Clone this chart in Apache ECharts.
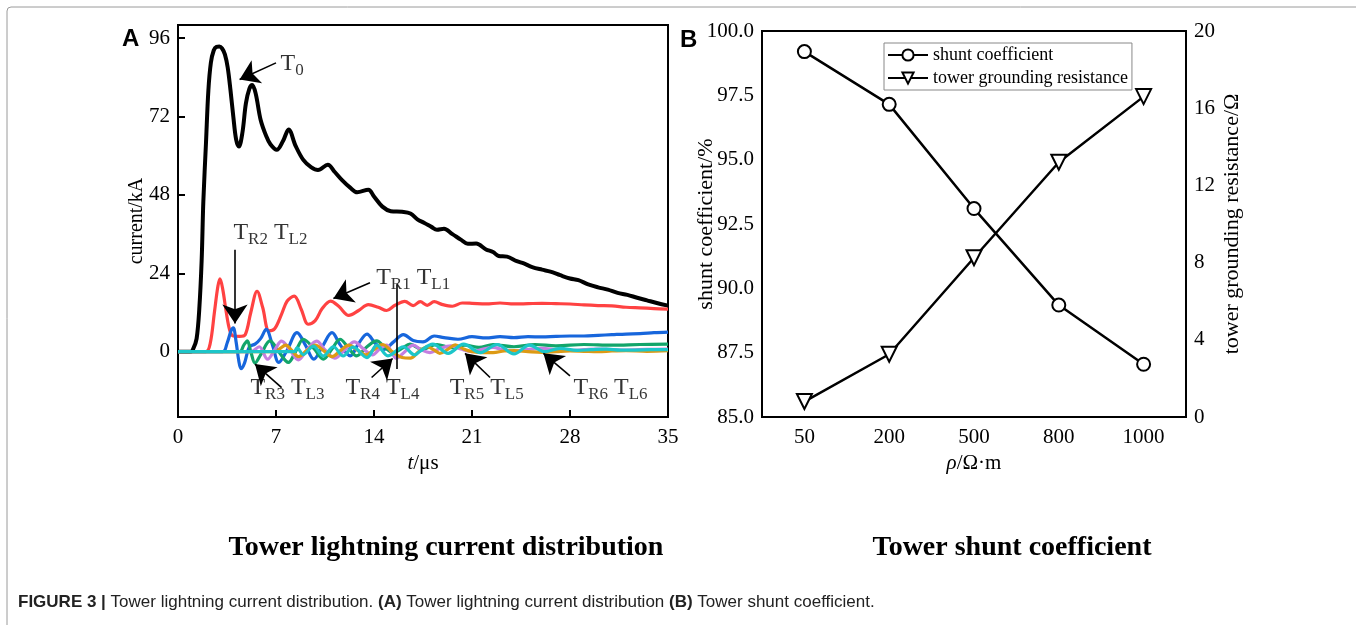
<!DOCTYPE html>
<html>
<head>
<meta charset="utf-8">
<style>
html, body { margin: 0; padding: 0; background: #fff; }
#myChart { width: 1356px; height: 625px; }
</style>
</head>
<body>
<div id="myChart"></div>
<script src="https://cdn.jsdelivr.net/npm/echarts@6/dist/echarts.min.js"></script>
<script>
// panel A: tower currents, points are [t in µs, current in kA]
const t0Current = [[0,0],[0.9,0],[1.1,1],[1.33,4],[1.52,13],[1.69,28],[1.81,46],[2.0,64],[2.17,80],[2.35,88.5],[2.55,92.2],[2.75,93.3],[2.95,93.4],[3.15,92.8],[3.35,91],[3.55,87],[3.75,80],[3.95,72],[4.15,65],[4.35,62.8],[4.6,67],[4.85,76],[5.1,80.5],[5.3,81.6],[5.55,79],[5.9,71],[6.3,66],[6.6,63.5],[7.05,61.8],[7.5,64.5],[7.9,68],[8.4,63],[8.95,58.7],[9.5,56.5],[10.0,55.6],[10.7,57.2],[11.2,55],[11.7,52.6],[12.3,50.2],[12.8,48.8],[13.6,49.6],[14.0,47.5],[14.6,44.4],[15.2,43],[16.0,42.8],[16.6,42.3],[17.1,40.5],[17.6,39.4],[18.1,38.2],[18.5,37.3],[19.0,37.6],[19.6,36],[20.2,34.3],[20.7,33],[21.3,33.1],[22.0,31.3],[22.5,30.5],[22.9,29.3],[23.5,29.1],[24.2,27.7],[24.7,27.0],[25.3,25.9],[26.0,25.1],[26.6,24.5],[27.3,23.4],[28.0,22.4],[28.6,21.9],[29.3,20.6],[30.0,19.7],[30.7,19.0],[31.4,18.0],[32.1,17.4],[32.8,16.5],[33.5,15.7],[34.2,14.9],[35,14.1]]
const r1Current = [[0,0],[2.0,0],[2.3,2.5],[2.6,12],[2.85,20],[3.0,22.3],[3.2,19],[3.45,12],[3.7,6.5],[3.95,4.8],[4.4,4.7],[4.8,5.2],[5.2,12],[5.65,18.5],[6.05,13.5],[6.5,6.4],[6.9,7],[7.4,11.5],[7.8,15.5],[8.3,17],[8.8,13],[9.3,8.4],[9.8,9.5],[10.3,13.2],[10.9,15.5],[11.5,13.8],[12.2,11.1],[12.9,12.6],[13.6,14.4],[14.3,13.6],[14.9,12.6],[15.5,14.2],[16.2,15.4],[16.8,14.1],[17.3,15.3],[17.8,14.2],[18.3,15.3],[18.9,14.4],[19.6,13.9],[20.3,14.9],[21,14.8],[22,14.6],[23,14.9],[24,14.6],[25,14.7],[26,14.8],[27,14.7],[28,14.6],[29,14.3],[30,14.1],[31,14.0],[32,13.6],[33,13.4],[34,13.2],[35,13.0]]
const r2Current = [[0,0],[3.2,0],[3.5,2.5],[3.8,6.5],[3.95,7.3],[4.15,3],[4.35,-3],[4.5,-5.2],[4.75,-3.5],[5.1,1.5],[5.5,2.3],[5.9,4],[6.3,6.8],[6.75,2],[7.2,-3.3],[7.8,0.5],[8.5,5.8],[9.1,2],[9.7,-2.3],[10.3,1.5],[11.0,5.8],[11.6,2],[12.3,-1.3],[12.9,2.5],[13.5,5.4],[14.1,2.5],[14.7,0.7],[15.4,3],[16.1,5.2],[16.8,3.4],[17.5,3.0],[18.3,4.8],[19.0,4.3],[20,3.8],[21,4.6],[22,4.2],[23,4.6],[24,4.3],[25,4.6],[26,4.5],[27,4.7],[28,4.8],[29,4.8],[30,5.0],[31,5.2],[32,5.4],[33,5.5],[34,5.8],[35,6.0]]
const r3Current = [[0,0],[4.4,0],[4.7,2],[4.95,3.3],[5.2,0],[5.5,-3.5],[5.9,-1],[6.57,3.3],[7.2,0],[7.88,-3.3],[8.4,0],[8.95,3.8],[9.7,1],[10.38,-2.3],[11.0,0.8],[11.57,3.8],[12.2,1],[12.76,-1.3],[13.5,1.5],[14.19,3.3],[14.8,1.2],[15.38,-0.3],[16.0,1],[16.57,2.3],[17.4,0.7],[18.5,2.2],[19.5,1.2],[20.5,2.0],[21.5,1.3],[22.5,2.2],[24,1.5],[25.5,2.2],[27,1.8],[29,2.2],[31,2.0],[33,2.2],[35,2.3]]
const r4Current = [[0,0],[5.2,0],[5.8,1.5],[6.4,-2.3],[6.9,0.5],[7.4,3.2],[8.0,0.5],[8.6,-2.5],[9.2,0.5],[9.9,3.2],[10.5,0.5],[11.2,-2.0],[11.9,0.5],[12.6,3.0],[13.2,1],[13.9,-1.0],[14.4,0.8],[14.9,2.0],[15.3,-0.5],[15.6,-2.0],[16.2,0],[16.8,2.0],[17.4,0.5],[18.0,-0.3],[18.7,1],[19.5,1.8],[20.2,0.8],[21,0],[21.8,0.8],[22.5,1.3],[23.2,0.6],[24,0.2],[25,0.7],[26,1.0],[27,0.6],[28,0.4],[29,0.6],[30,0.8],[32,0.5],[33.5,0.7],[35,0.8]]
const r5Current = [[0,0],[7.0,0],[7.3,1],[7.7,2.0],[8.15,0.3],[8.6,-1.5],[9.2,0.3],[9.8,2.0],[10.4,0.3],[11.0,-1.5],[11.6,0.3],[12.2,2.0],[12.8,0.5],[13.4,-1.0],[14.0,0.6],[14.6,2.2],[15.3,0],[16.0,-1.8],[16.6,-2.0],[17.2,0],[17.8,1.5],[18.3,0.5],[18.7,-0.5],[19.3,0.8],[19.8,2.1],[20.4,0.8],[21,0.0],[21.8,-0.3],[22.5,-0.3],[23.3,0.2],[24,0.3],[25,0],[26,-0.2],[27,0],[28,0.2],[29,0.1],[30,0.0],[31,0.2],[32,0.3],[33.5,0.1],[35,0.3]]
const r6Current = [[0,0],[8.3,0],[8.5,1.2],[8.95,-0.9],[9.67,1.7],[10.38,-1.3],[11.1,1.5],[11.8,-1.3],[12.5,1.4],[13.5,-1.8],[14.2,2.0],[15.0,-1.3],[16.1,1.5],[16.9,-1.0],[17.3,0.2],[18.2,2.3],[19.3,-0.5],[20.4,2.3],[21.6,-0.3],[22.8,2.2],[24.0,-0.7],[25.1,2.0],[26.2,0.0],[27.3,1.0],[28.5,0.4],[29.5,0.6],[30.6,0.8],[31.6,0.5],[32.7,0.5],[33.8,0.6],[35,0.6]]
const timeTicks = [0, 7, 14, 21, 28, 35]
const currentTicks = [0, 24, 48, 72, 96]

// panel B: shunt coefficient and grounding resistance vs soil resistivity
const rhoLabels = ['50', '200', '500', '800', '1000']
const shuntCoeff = [99.2, 97.15, 93.1, 89.35, 87.05]
const groundRes = [0.8, 3.25, 8.25, 13.2, 16.6]

// annotations of panel A, in data units
const arrowLines = [
  [[7.0, 88.4], [4.4, 83.3]],
  [[4.07, 31.2], [4.07, 8.6]],
  [[13.71, 21.1], [11.1, 16.3]],
  [[7.4, -11.0], [5.5, -3.8]],
  [[13.83, -7.9], [15.33, -2.1]],
  [[22.29, -7.9], [20.5, -0.5]],
  [[28.0, -7.4], [26.1, -0.5]]
]
const plainLines = [[[15.62, 20.6], [15.62, -5.3]]]
const curveLabels = [
  [8.15, 88.1, 'T{s|0}'],
  [6.6, 36.4, 'T{s|R2} T{s|L2}'],
  [16.8, 22.7, 'T{s|R1} T{s|L1}'],
  [7.82, -10.95, 'T{s|R3} T{s|L3}'],
  [14.6, -10.9, 'T{s|R4} T{s|L4}'],
  [22.05, -10.9, 'T{s|R5} T{s|L5}'],
  [30.9, -10.9, 'T{s|R6} T{s|L6}']
]

const SERIF = 'Liberation Serif'
const SANS = 'Liberation Sans'

let myChart = echarts.init(document.getElementById('myChart'))

function currentLine (name, data, color, width) {
  return {
    name: name,
    type: 'line',
    xAxisIndex: 0,
    yAxisIndex: 0,
    data: data,
    smooth: 0.35,
    showSymbol: false,
    lineStyle: { color: color, width: width },
    itemStyle: { color: color },
    z: 3
  }
}

myChart.setOption({
  animation: false,
  textStyle: { fontFamily: SERIF, color: '#000' },
  graphic: [
    {
      type: 'rect',
      shape: { x: 7, y: 7, width: 1420, height: 700, r: 4 },
      style: { fill: 'none', stroke: '#9a9a9a', lineWidth: 1 }
    },
    {
      type: 'text', x: 122, y: 27,
      style: { text: 'A', fontSize: 24, fontWeight: 'bold', fontFamily: SANS, fill: '#000' }
    },
    {
      type: 'text', x: 680, y: 28,
      style: { text: 'B', fontSize: 24, fontWeight: 'bold', fontFamily: SANS, fill: '#000' }
    },
    {
      type: 'text', x: 446, y: 548,
      style: {
        text: 'Tower lightning current distribution', fontSize: 28, fontWeight: 'bold',
        fontFamily: SERIF, fill: '#000', align: 'center', verticalAlign: 'middle'
      }
    },
    {
      type: 'text', x: 1012, y: 548,
      style: {
        text: 'Tower shunt coefficient', fontSize: 28, fontWeight: 'bold',
        fontFamily: SERIF, fill: '#000', align: 'center', verticalAlign: 'middle'
      }
    },
    {
      type: 'text', x: 18, y: 602,
      style: {
        text: '{b|FIGURE 3 |} Tower lightning current distribution. {b|(A)} Tower lightning current distribution {b|(B)} Tower shunt coefficient.',
        fontSize: 17, fontFamily: SANS, fill: '#222', verticalAlign: 'middle',
        rich: { b: { fontSize: 17, fontFamily: SANS, fontWeight: 'bold', fill: '#222' } }
      }
    }
  ],
  legend: {
    show: true,
    orient: 'vertical',
    left: 884,
    top: 43,
    data: ['shunt coefficient', 'tower grounding resistance'],
    itemWidth: 40,
    itemHeight: 14,
    itemGap: 5,
    padding: [3, 4, 3, 3],
    borderColor: '#888',
    borderWidth: 1,
    textStyle: { fontSize: 18, fontFamily: SERIF, color: '#000' }
  },
  grid: [
    { left: 178, top: 25, width: 490, height: 392, show: true, borderColor: '#000', borderWidth: 2, outerBoundsMode: 'none' },
    { left: 762, top: 31, width: 424, height: 386, show: true, borderColor: '#000', borderWidth: 2, outerBoundsMode: 'none' }
  ],
  xAxis: [
    {
      gridIndex: 0,
      type: 'value',
      min: 0,
      max: 35,
      interval: 7,
      name: '{i|t}/μs',
      nameLocation: 'middle',
      nameGap: 36,
      nameTextStyle: {
        fontSize: 21, fontFamily: SERIF, color: '#000',
        rich: { i: { fontSize: 21, fontFamily: SERIF, fontStyle: 'italic', color: '#000' } }
      },
      axisLine: { onZero: false, lineStyle: { color: '#000', width: 2 } },
      axisTick: { inside: true, length: 7, lineStyle: { color: '#000', width: 2 } },
      axisLabel: { fontSize: 21, fontFamily: SERIF, color: '#000', margin: 10, customValues: timeTicks },
      splitLine: { show: false }
    },
    {
      gridIndex: 1,
      type: 'category',
      data: rhoLabels,
      boundaryGap: true,
      name: '{i|ρ}/Ω·m',
      nameLocation: 'middle',
      nameGap: 36,
      nameTextStyle: {
        fontSize: 21, fontFamily: SERIF, color: '#000',
        rich: { i: { fontSize: 21, fontFamily: SERIF, fontStyle: 'italic', color: '#000' } }
      },
      axisLine: { lineStyle: { color: '#000', width: 2 } },
      axisTick: { inside: true, length: 7, alignWithLabel: true, lineStyle: { color: '#000', width: 2 } },
      axisLabel: { fontSize: 21, fontFamily: SERIF, color: '#000', margin: 10 },
      splitLine: { show: false }
    }
  ],
  yAxis: [
    {
      gridIndex: 0,
      type: 'value',
      min: -20,
      max: 100,
      name: 'current/kA',
      nameLocation: 'middle',
      nameRotate: 90,
      nameGap: 31,
      nameMoveOverlap: false,
      nameTextStyle: { fontSize: 20, fontFamily: SERIF, color: '#000' },
      axisLine: { lineStyle: { color: '#000', width: 2 } },
      axisTick: { inside: true, length: 7, customValues: currentTicks, lineStyle: { color: '#000', width: 2 } },
      axisLabel: { fontSize: 21, fontFamily: SERIF, color: '#000', margin: 8, customValues: currentTicks },
      splitLine: { show: false }
    },
    {
      gridIndex: 1,
      type: 'value',
      min: 85,
      max: 100,
      interval: 2.5,
      name: 'shunt coefficient/%',
      nameLocation: 'middle',
      nameRotate: 90,
      nameGap: 45,
      nameMoveOverlap: false,
      nameTextStyle: { fontSize: 22, fontFamily: SERIF, color: '#000' },
      axisLine: { lineStyle: { color: '#000', width: 2 } },
      axisTick: { inside: true, length: 7, lineStyle: { color: '#000', width: 2 } },
      axisLabel: { fontSize: 21, fontFamily: SERIF, color: '#000', margin: 8, formatter: v => v.toFixed(1) },
      splitLine: { show: false }
    },
    {
      gridIndex: 1,
      type: 'value',
      position: 'right',
      min: 0,
      max: 20,
      interval: 4,
      name: 'tower grounding resistance/Ω',
      nameLocation: 'middle',
      nameRotate: 90,
      nameGap: 35,
      nameMoveOverlap: false,
      nameTextStyle: { fontSize: 22, fontFamily: SERIF, color: '#000' },
      axisLine: { lineStyle: { color: '#000', width: 2 } },
      axisTick: { inside: true, length: 7, lineStyle: { color: '#000', width: 2 } },
      axisLabel: { fontSize: 21, fontFamily: SERIF, color: '#000', margin: 8 },
      splitLine: { show: false }
    }
  ],
  series: [
    currentLine('T0', t0Current, '#000000', 4),
    currentLine('TR1 TL1', r1Current, '#ff4242', 3.2),
    currentLine('TR2 TL2', r2Current, '#1766dc', 3.2),
    currentLine('TR3 TL3', r3Current, '#12a56a', 3.2),
    currentLine('TR4 TL4', r4Current, '#c47fe0', 3.2),
    currentLine('TR5 TL5', r5Current, '#dd9a14', 3.2),
    currentLine('TR6 TL6', r6Current, '#1cc6c9', 3.2),
    {
      // arrows and pointer lines
      type: 'line',
      xAxisIndex: 0,
      yAxisIndex: 0,
      data: [],
      z: 5,
      markLine: {
        silent: true,
        animation: false,
        symbol: ['none', 'arrow'],
        symbolSize: 19,
        label: { show: false },
        lineStyle: { color: '#000', width: 1.6, type: 'solid' },
        emphasis: { disabled: true },
        data: arrowLines.map(a => [{ coord: a[0] }, { coord: a[1] }])
          .concat(plainLines.map(a => [{ coord: a[0], symbol: 'none' }, { coord: a[1], symbol: 'none' }]))
      }
    },
    {
      // curve labels
      type: 'scatter',
      xAxisIndex: 0,
      yAxisIndex: 0,
      data: curveLabels,
      symbolSize: 0,
      z: 6,
      silent: true,
      label: {
        show: true,
        position: 'inside',
        formatter: p => p.value[2],
        fontSize: 24,
        fontFamily: SERIF,
        color: '#000',
        lineHeight: 24,
        rich: {
          s: { fontSize: 17, fontFamily: SERIF, color: '#000', lineHeight: 17, padding: [14, 0, 0, 0] }
        }
      }
    },
    {
      name: 'shunt coefficient',
      type: 'line',
      xAxisIndex: 1,
      yAxisIndex: 1,
      data: shuntCoeff,
      symbol: 'circle',
      symbolSize: 13,
      lineStyle: { color: '#000', width: 2.5 },
      itemStyle: { color: '#fff', borderColor: '#000', borderWidth: 2 },
      z: 4
    },
    {
      name: 'tower grounding resistance',
      type: 'line',
      xAxisIndex: 1,
      yAxisIndex: 2,
      data: groundRes,
      symbol: 'triangle',
      symbolRotate: 180,
      symbolSize: 15,
      lineStyle: { color: '#000', width: 2.5 },
      itemStyle: { color: '#fff', borderColor: '#000', borderWidth: 2 },
      z: 4
    }
  ]
})
</script>
</body>
</html>
